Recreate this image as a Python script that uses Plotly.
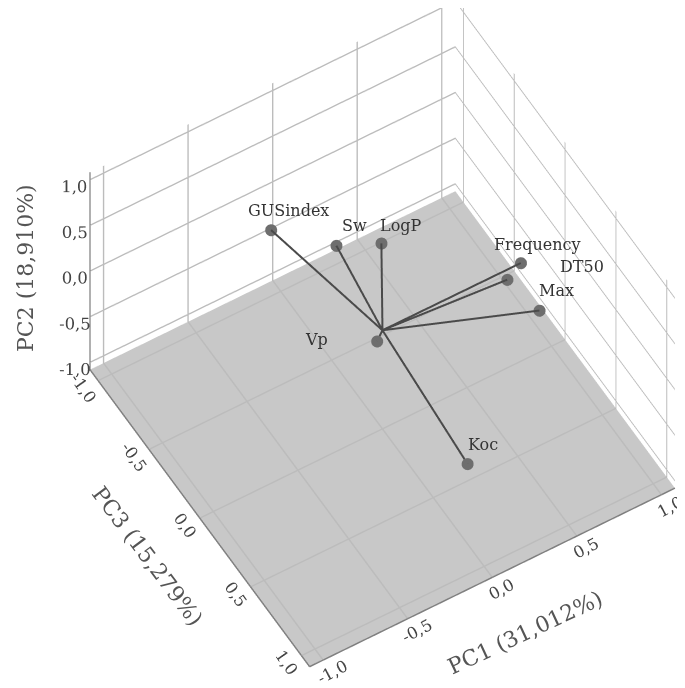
import plotly.graph_objects as go

variables = ["GUSindex", "Sw", "LogP", "Frequency", "DT50", "Max", "Vp", "Koc"]
pc1 = [-0.25, 0.01, 0.21, 0.77, 0.69, 0.76, -0.05, 0.04]
pc3 = [-0.68, -0.47, -0.36, 0.08, 0.08, 0.28, 0.03, 0.77]
pc2 = [0.30, 0.21, 0.22, 0.16, 0.05, -0.05, -0.03, -0.34]
tick_vals = [-1.0, -0.5, 0.0, 0.5, 1.0]
tick_text = ["-1,0", "-0,5", "0,0", "0,5", "1,0"]
label_dx = [17, 18, 20, 17, 75, 17, -61, 15]
label_dy = [20, 20, 18, 19, 13, 20, 2, 19]

line_x, line_y, line_z = [], [], []
for a, b, c in zip(pc1, pc3, pc2):
    line_x += [0, a, None]
    line_y += [0, b, None]
    line_z += [0, c, None]

fig = go.Figure()
fig.add_trace(go.Scatter3d(x=line_x, y=line_y, z=line_z, mode="lines",
                           line=dict(color="#4a4a4a", width=4), hoverinfo="skip", showlegend=False))
fig.add_trace(go.Scatter3d(x=pc1, y=pc3, z=pc2, mode="markers",
                           marker=dict(color="#6e6e6e", size=7), showlegend=False))

FONT = "DejaVu Serif"
def axis(tickangle):
    return dict(title=dict(text=""),
                range=[-1.08, 1.08], tickvals=tick_vals, ticktext=tick_text, tickangle=tickangle,
                tickfont=dict(family=FONT, size=14, color="#444444"),
                gridcolor="#bcbcbc", gridwidth=3, showline=True, linecolor="#808080", linewidth=3,
                zeroline=False, ticks="", showbackground=False, showspikes=False)

yax = axis(55)
yax["range"] = [1.08, -1.08]
zax = axis(0)
zax.update(showbackground=True, backgroundcolor="#c8c8c8")

annotations = [dict(x=a, y=b, z=c, text=t, showarrow=False, xshift=dx, yshift=dy,
                    font=dict(family=FONT, size=16, color="#333333"))
               for a, b, c, t, dx, dy in zip(pc1, pc3, pc2, variables, label_dx, label_dy)]

def title(text, px, py, angle):
    return dict(text=text, xref="paper", yref="paper", x=px/685, y=1-py/688,
                showarrow=False, textangle=angle, xanchor="center", yanchor="middle",
                font=dict(family=FONT, size=22, color="#555555"))

r = 1.7
c = (-0.106, 0.004, -0.037)
d = (-0.300, -0.499, 0.813)
fig.update_layout(
    width=685, height=688, margin=dict(l=0, r=0, t=0, b=0), separators=", ",
    paper_bgcolor="white", showlegend=False,
    annotations=[title("PC2 (18,910%)", 17, 260, -90),
                 title("PC1 (31,012%)", 517, 624, -25),
                 title("PC3 (15,279%)", 140, 548, 53)],
    scene=dict(
        xaxis=axis(-28), yaxis=yax, zaxis=zax,
        aspectmode="manual", aspectratio=dict(x=1.239, y=1.239, z=0.985),
        camera=dict(eye=dict(x=c[0]+d[0]*r, y=c[1]+d[1]*r, z=c[2]+d[2]*r),
                    center=dict(x=c[0], y=c[1], z=c[2]), up=dict(x=0, y=0, z=1),
                    projection=dict(type="orthographic")),
        annotations=annotations,
        domain=dict(x=[0, 1], y=[0, 1]),
    ),
)
fig.write_html("out.html")
